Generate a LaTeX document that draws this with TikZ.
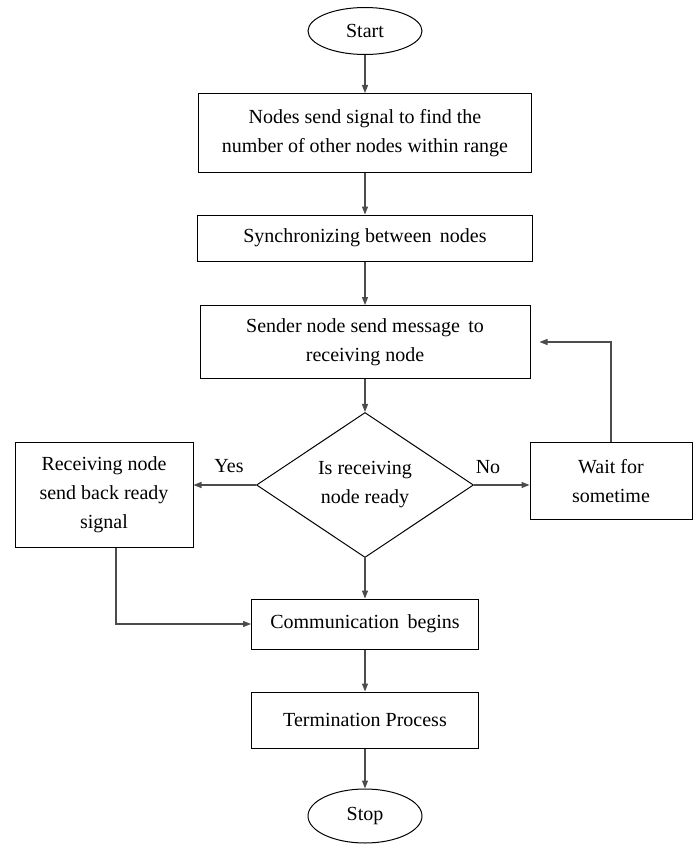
\documentclass[tikz,border=0pt]{standalone}
\usepackage{fontspec}
\setmainfont{Liberation Serif}
\usetikzlibrary{shapes.geometric,arrows.meta}

\begin{document}
\begin{tikzpicture}[x=1pt, y=-1pt,
    font=\fontsize{20}{29}\selectfont,
    procbox/.style={draw, line width=1pt, align=center, inner sep=0pt},
    termnode/.style={draw, ellipse, line width=1pt, inner sep=0pt},
    decision/.style={draw, diamond, line width=1pt, align=center, inner sep=0pt},
    arr/.style={-{Triangle[length=8pt,width=6pt]}, line width=1.2pt, black!70}]
  \useasboundingbox (0,0) rectangle (694,845);

  % Main column of steps
  \node[termnode, minimum width=114pt, minimum height=47pt] (start) at (365,31) {Start};
  \node[procbox, minimum width=333pt, minimum height=79pt] (find) at (365,133)
    {Nodes send signal to find the\\number of other nodes within range};
  \node[procbox, minimum width=335pt, minimum height=46pt] (sync) at (365,238)
    {Synchronizing between\, nodes};
  \node[procbox, minimum width=330pt, minimum height=73pt] (send) at (365,342)
    {Sender node send message\, to\\receiving node};
  \node[decision, minimum width=217pt, minimum height=145pt] (ready) at (365,485)
    {Is receiving\\node ready};
  \node[procbox, minimum width=227pt, minimum height=50pt] (comm) at (365,624)
    {Communication\, begins};
  \node[procbox, minimum width=227pt, minimum height=56pt] (term) at (365,720)
    {Termination Process};
  \node[termnode, minimum width=114pt, minimum height=54pt] (stop) at (365,816) {Stop};

  % Side branches
  \node[procbox, minimum width=178pt, minimum height=105pt] (back) at (104,495)
    {Receiving node\\send back ready\\signal};
  \node[procbox, minimum width=162pt, minimum height=77pt] (wait) at (611,481)
    {Wait for\\sometime};
  \node (yes) at (229,466) {Yes};
  \node (no) at (488,467) {No};

  % Connectors
  \draw[arr] (start) -- (find);
  \draw[arr] (find) -- (sync);
  \draw[arr] (sync) -- (send);
  \draw[arr] (send) -- (ready);
  \draw[arr] (ready) -- (comm);
  \draw[arr] (comm) -- (term);
  \draw[arr] (term) -- (stop);
  \draw[arr] (ready.west) -- (ready.west -| back.east);
  \draw[arr] (ready.east) -- (ready.east -| wait.west);
  \draw[arr, shorten >=9pt] (wait.north) |- (send.east);
  \draw[arr] ([xshift=12pt]back.south) |- (comm.west);
\end{tikzpicture}
\end{document}
